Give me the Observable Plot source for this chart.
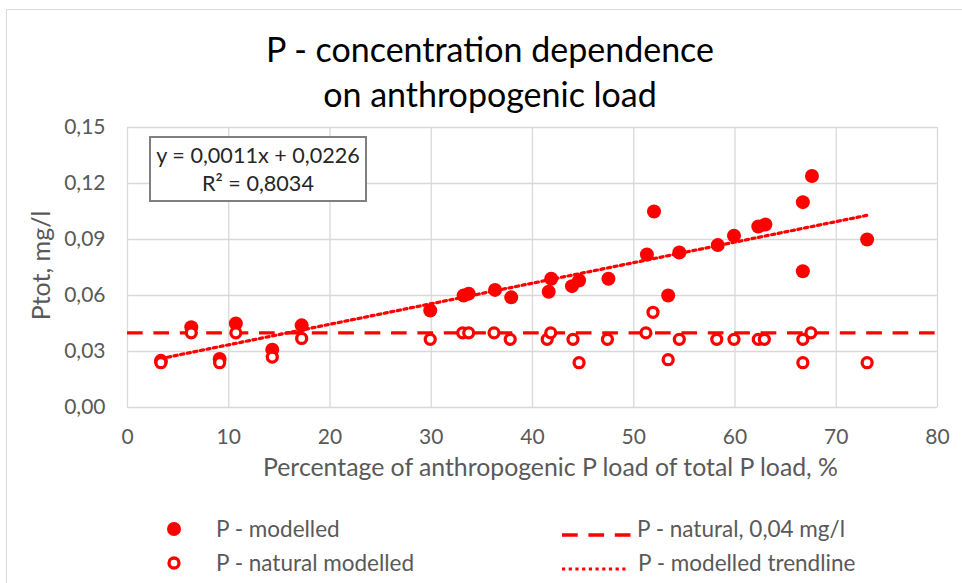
<!DOCTYPE html>
<html><head><meta charset="utf-8">
<script src="https://cdn.jsdelivr.net/npm/d3@7"></script>
<script src="https://cdn.jsdelivr.net/npm/@observablehq/plot@0.6"></script>
<style>
body{margin:0;background:#fff;}
#wrap{position:relative;width:962px;height:583px;overflow:hidden;font-family:Lato,sans-serif;background:#fff;}
#border{position:absolute;left:6px;top:9px;width:1200px;height:900px;border:1.5px solid #d9d9d9;}
#title{position:relative;height:118px;box-sizing:border-box;padding-top:26px;padding-left:18px;text-align:center;font-size:34px;line-height:45px;color:#000;}
#chart{position:relative;height:370px;}
#eq{position:absolute;left:149px;top:136px;width:218px;height:66px;box-sizing:border-box;border:2px solid #7f7f7f;background:#fff;text-align:center;font-size:21.6px;line-height:27.4px;color:#262626;padding-top:4.4px;white-space:nowrap;}
.lg{position:absolute;height:34px;line-height:34px;font-size:22.5px;color:#595959;white-space:nowrap;}
.sw{position:absolute;}
</style></head>
<body>
<div id="wrap">
  <div id="border"></div>
  <div id="title"></div>
  <div id="chart"></div>
  <div id="eq"></div>
  <div id="legend"></div>
</div>
<script>
// ---- data ----
const titleLines = ["P - concentration dependence", "on anthropogenic load"];
const xLabel = "Percentage of anthropogenic P load of total P load, %";
const yLabel = "Ptot, mg/l";
const xTicks = [0, 10, 20, 30, 40, 50, 60, 70, 80];
const yTicks = [0, 0.03, 0.06, 0.09, 0.12, 0.15];
const xPct = [3.3, 6.3, 9.1, 10.7, 14.3, 17.2, 29.9, 33.2, 33.7, 36.3, 37.9, 41.6, 41.85, 43.9, 44.6, 47.5, 51.3, 52.0, 53.4, 54.5, 58.3, 59.9, 62.3, 63.0, 66.7, 66.7, 67.6, 73.05];
const xPctNatural = [3.3, 6.3, 9.1, 10.7, 14.3, 17.2, 29.9, 33.1, 33.7, 36.2, 37.8, 41.45, 41.8, 44.0, 44.6, 47.4, 51.2, 51.9, 53.4, 54.5, 58.2, 59.9, 62.3, 62.9, 66.7, 66.7, 67.5, 73.05];
const pModelled = [0.025, 0.043, 0.026, 0.045, 0.031, 0.044, 0.052, 0.060, 0.061, 0.063, 0.059, 0.062, 0.069, 0.065, 0.068, 0.069, 0.082, 0.105, 0.060, 0.083, 0.087, 0.092, 0.097, 0.098, 0.110, 0.073, 0.124, 0.090];
const pNatural = [0.024, 0.040, 0.024, 0.040, 0.027, 0.037, 0.0365, 0.040, 0.040, 0.040, 0.0365, 0.0365, 0.040, 0.0365, 0.024, 0.0365, 0.040, 0.051, 0.0256, 0.0365, 0.0365, 0.0365, 0.0365, 0.0365, 0.0365, 0.024, 0.040, 0.024];
const naturalLevel = 0.04;
const trendSlope = 0.0011, trendIntercept = 0.0226;
const eqLines = ["y = 0,0011x + 0,0226", "R\u00B2 = 0,8034"];
const legendNames = ["P - modelled", "P - natural modelled", "P - natural, 0,04 mg/l", "P - modelled trendline"];

const red = "#ff0000";
const modelled = xPct.map((x, i) => ({x, y: pModelled[i]}));
const natural = xPctNatural.map((x, i) => ({x, y: pNatural[i]}));
const trend = d3.extent(xPct).map(x => ({x, y: trendSlope * x + trendIntercept}));

document.getElementById("title").innerHTML = titleLines.join("<br>");
document.getElementById("eq").innerHTML = eqLines.join("<br>");

const plot = Plot.plot({
  width: 962, height: 370,
  marginLeft: 127, marginRight: 25, marginTop: 9, marginBottom: 81,
  x: {domain: [0, 80]},
  y: {domain: [0, 0.15]},
  style: {fontFamily: "Lato, sans-serif", fontSize: "21px", background: "transparent", overflow: "visible"},
  marks: [
    Plot.gridX({ticks: xTicks, stroke: "#d9d9d9", strokeOpacity: 1, strokeWidth: 1.3}),
    Plot.gridY({ticks: yTicks, stroke: "#d9d9d9", strokeOpacity: 1, strokeWidth: 1.3}),
    Plot.axisX({ticks: xTicks, tickSize: 0, tickPadding: 22, fontSize: 21, fill: "#595959", label: null, tickFormat: d => String(d)}),
    Plot.axisY({ticks: yTicks, tickSize: 0, tickPadding: 22, fontSize: 21, fill: "#595959", label: null, tickFormat: d => d.toFixed(2).replace(".", ",")}),
    Plot.ruleY([naturalLevel], {stroke: red, strokeWidth: 3.3, strokeDasharray: "15.7,10.7"}),
    Plot.line(trend, {x: "x", y: "y", stroke: red, strokeWidth: 3.2, strokeDasharray: "3.2,3.5"}),
    Plot.dot(modelled, {x: "x", y: "y", r: 7, fill: red}),
    Plot.dot(natural, {x: "x", y: "y", r: 5, stroke: red, strokeWidth: 3.3, fill: "white"}),
    Plot.text([xLabel], {text: d => d, frameAnchor: "bottom", dx: 18, dy: 61, textAnchor: "middle", lineAnchor: "middle", fontSize: 24.8, fill: "#595959"}),
    Plot.text([yLabel], {text: d => d, frameAnchor: "left", dx: -86, dy: -2, rotate: -90, textAnchor: "middle", lineAnchor: "middle", fontSize: 25, fill: "#595959"})
  ]
});
document.getElementById("chart").appendChild(plot);

// ---- legend ----
const wrap = document.getElementById("wrap");
function addText(txt, left, cy) {
  const d = document.createElement("div");
  d.className = "lg"; d.textContent = txt;
  d.style.left = left + "px"; d.style.top = (cy - 17) + "px";
  wrap.appendChild(d);
}
function addSwatch(svg, left, top, w, h) {
  const d = document.createElement("div");
  d.className = "sw"; d.style.left = left + "px"; d.style.top = top + "px";
  d.innerHTML = `<svg width="${w}" height="${h}">${svg}</svg>`;
  wrap.appendChild(d);
}
const row1 = 529, row2 = 563;
addSwatch(`<circle cx="10" cy="10" r="7" fill="${red}"/>`, 164, row1 - 10, 20, 20);
addText(legendNames[0], 216, row1);
addSwatch(`<circle cx="10" cy="10" r="5" fill="white" stroke="${red}" stroke-width="3.3"/>`, 164, row2 - 10, 20, 20);
addText(legendNames[1], 216, row2);
addSwatch(`<line x1="0" y1="5" x2="69" y2="5" stroke="${red}" stroke-width="3.3" stroke-dasharray="15.7,10.7"/>`, 562, row1 - 5, 70, 10);
addText(legendNames[2], 637, row1);
addSwatch(`<line x1="0" y1="5" x2="65" y2="5" stroke="${red}" stroke-width="3.2" stroke-dasharray="3.2,3.5"/>`, 562, row2 - 5, 66, 10);
addText(legendNames[3], 638, row2);
</script>
</body></html>
